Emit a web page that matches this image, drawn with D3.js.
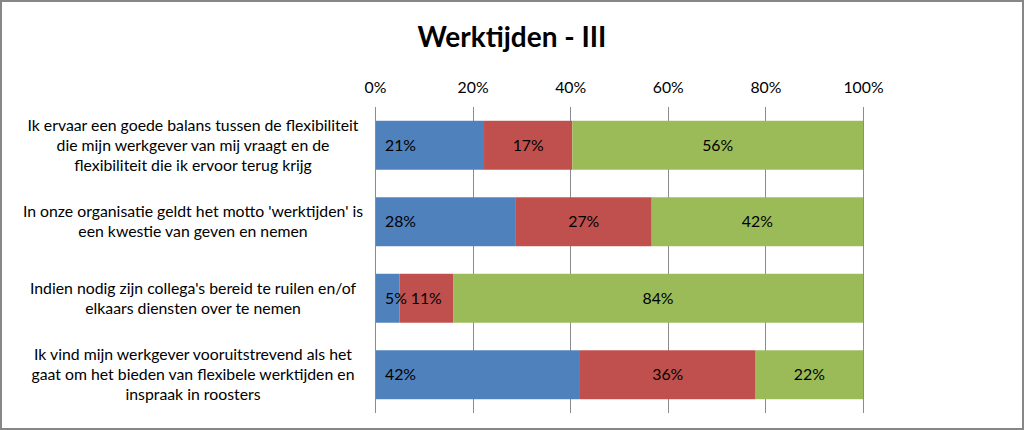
<!DOCTYPE html>
<html>
<head>
<meta charset="utf-8">
<script src="https://cdn.jsdelivr.net/npm/d3@7"></script>
<style>
  html, body { margin: 0; padding: 0; background: #fff; }
  svg { display: block; }
</style>
</head>
<body>
<svg id="chart" width="1024" height="430"></svg>
<script>
const title = "Werktijden - III";
const categories = [
  ["Ik ervaar een goede balans tussen de flexibiliteit", "die mijn werkgever van mij vraagt en de", "flexibiliteit die ik ervoor terug krijg"],
  ["In onze organisatie geldt het motto 'werktijden' is", "een kwestie van geven en nemen"],
  ["Indien nodig zijn collega's bereid te ruilen en/of", "elkaars diensten over te nemen"],
  ["Ik vind mijn werkgever vooruitstrevend als het", "gaat om het bieden van flexibele werktijden en", "inspraak in roosters"]
];
const seriesKeys = ["s1", "s2", "s3"];
const s1 = [21, 28, 5, 42];
const s2 = [17, 27, 11, 36];
const s3 = [56, 42, 84, 22];
const colors = ["#4F81BD", "#C0504D", "#9BBB59"];
const tickValues = [0, 0.2, 0.4, 0.6, 0.8, 1.0];

const data = categories.map((c, i) => ({ idx: i, s1: s1[i], s2: s2[i], s3: s3[i] }));
const stack = d3.stack().keys(seriesKeys).offset(d3.stackOffsetExpand);
const stacked = stack(data);

const svg = d3.select("#chart");
const W = 1024, H = 430;
const font = "Lato, 'Open Sans', sans-serif";
const fs = 15.8;

// outer border
svg.append("rect").attr("x", 1).attr("y", 1).attr("width", W - 2).attr("height", H - 2)
  .attr("fill", "#fff").attr("stroke", "#878787").attr("stroke-width", 2);

const plot = { left: 375, right: 863, top: 107, bottom: 413 };
const x = d3.scaleLinear().domain([0, 1]).range([plot.left, plot.right]);
const y = d3.scaleBand().domain(d3.range(categories.length)).range([plot.top, plot.bottom])
  .paddingInner(0.36).paddingOuter(0.18);

// gridlines
svg.append("g").selectAll("line").data(tickValues).join("line")
  .attr("x1", d => Math.round(x(d)) + 0.5).attr("x2", d => Math.round(x(d)) + 0.5)
  .attr("y1", plot.top).attr("y2", plot.bottom)
  .attr("stroke", "#8c8c8c").attr("stroke-width", 1);

// top axis labels
const xAxis = d3.axisTop(x).tickValues(tickValues).tickFormat(d3.format(".0%")).tickSize(0).tickPadding(0);
const ax = svg.append("g").attr("transform", `translate(0, 93)`).call(xAxis);
ax.select(".domain").remove();
ax.selectAll("text").attr("font-family", font).attr("font-size", fs).attr("fill", "#000");

// bars
const layer = svg.append("g").selectAll("g").data(stacked).join("g")
  .attr("fill", (d, i) => colors[i]);
layer.selectAll("rect").data(d => d).join("rect")
  .attr("x", d => x(d[0])).attr("width", d => x(d[1]) - x(d[0]))
  .attr("y", d => y(d.data.idx)).attr("height", y.bandwidth());

// value labels
stacked.forEach((layerData, li) => {
  const key = seriesKeys[li];
  svg.append("g").selectAll("text").data(layerData).join("text")
    .attr("x", d => li === 0 ? x(d[0]) + 10 : (x(d[0]) + x(d[1])) / 2)
    .attr("text-anchor", li === 0 ? "start" : "middle")
    .attr("y", d => y(d.data.idx) + y.bandwidth() / 2)
    .attr("dy", "0.35em")
    .attr("font-family", font).attr("font-size", fs).attr("fill", "#000")
    .text(d => d.data[key] + "%");
});

// left axis line
svg.append("line").attr("x1", plot.left + 0.5).attr("x2", plot.left + 0.5)
  .attr("y1", plot.top).attr("y2", plot.bottom).attr("stroke", "#8c8c8c");

// category labels
const lh = 20;
const catG = svg.append("g");
categories.forEach((lines, i) => {
  const cy = y(i) + y.bandwidth() / 2;
  const t = catG.append("text").attr("text-anchor", "middle")
    .attr("font-family", font).attr("font-size", fs).attr("fill", "#000");
  lines.forEach((ln, j) => {
    t.append("tspan").attr("x", 193)
      .attr("y", cy + (j - (lines.length - 1) / 2) * lh)
      .attr("dy", "0.35em").text(ln);
  });
});

// title
svg.append("text").attr("x", 512).attr("y", 47).attr("text-anchor", "middle")
  .attr("font-family", font).attr("font-weight", "bold").attr("font-size", 28)
  .attr("fill", "#000").text(title);
</script>
</body>
</html>
